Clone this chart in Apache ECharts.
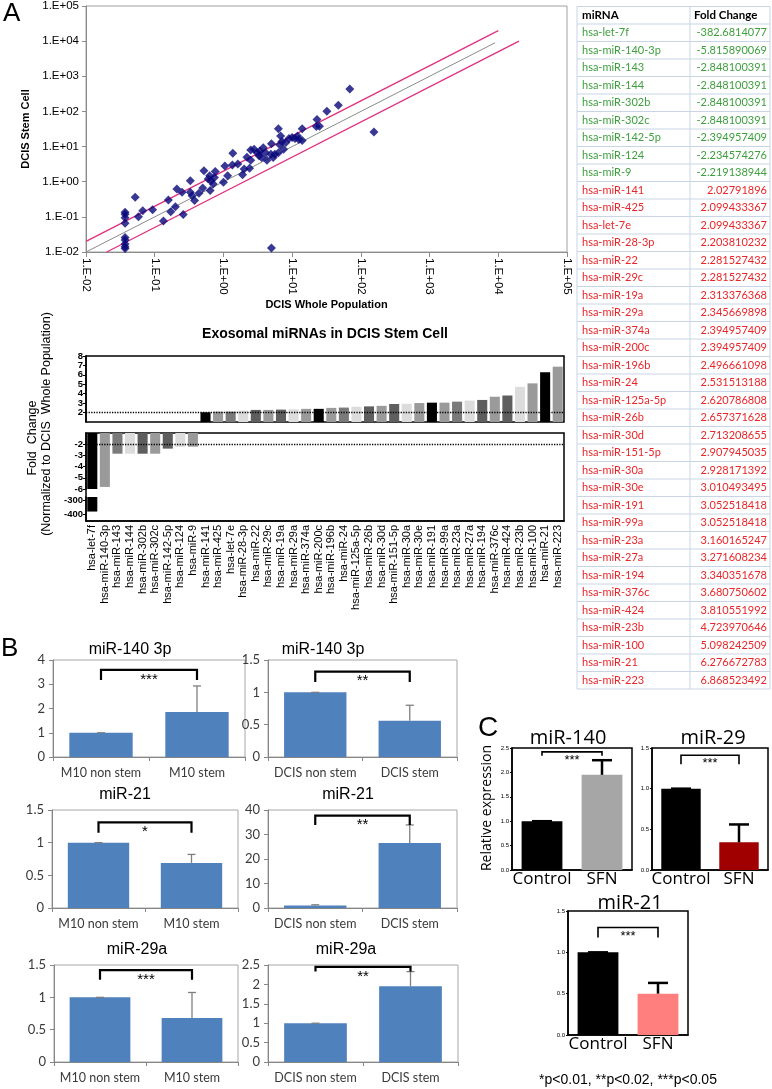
<!DOCTYPE html>
<html>
<head>
<meta charset="utf-8">
<script src="https://cdn.jsdelivr.net/npm/echarts@6/dist/echarts.min.js"></script>
<style>
  html, body { margin: 0; padding: 0; background: #fff; }
  #main { width: 772px; height: 1089px; }
</style>
</head>
<body>
<div id="main"></div>
<script>
// ---------- data ----------
// panel A scatter (DCIS whole population vs DCIS stem cell)
const scatterWhole = [0.037, 0.037, 0.037, 0.037, 0.037, 0.037, 0.037, 0.037, 0.037,
  0.052, 0.058, 0.067, 0.093, 0.134, 0.158, 0.171, 0.20, 0.21, 0.25, 0.26,
  0.33, 0.33, 0.35, 0.38, 0.44, 0.50, 0.52, 0.60, 0.63, 0.64, 0.66, 0.71, 0.74, 0.76,
  1.0, 1.05, 1.15, 1.35, 1.37, 1.62, 1.9, 2.0, 2.2, 2.4, 2.5, 2.5, 2.8, 3.1, 3.3, 3.4,
  3.6, 3.8, 4.1, 4.3, 4.9, 5.0, 5.3, 5.6, 6.3, 6.3, 6.6, 6.8, 7.1, 7.5, 8.1, 9.0,
  10, 11, 12, 12.5, 14, 14, 22.5, 23, 25, 32, 47, 69, 155, 5.0];
const scatterStem = [0.135, 0.118, 0.095, 0.066, 0.026, 0.022, 0.017, 0.014, 0.0125,
  0.36, 0.10, 0.15, 0.16, 0.076, 0.30, 0.14, 0.195, 0.62, 0.50, 0.117,
  1.07, 0.50, 0.40, 0.29, 0.47, 0.66, 2.04, 1.20, 1.48, 0.56, 1.07, 0.86, 1.32, 1.95,
  0.96, 2.8, 1.48, 3.0, 6.5, 3.2, 1.58, 2.3, 5.0, 2.4, 8.0, 4.1, 8.4, 6.7, 5.5, 7.5,
  4.9, 9.3, 6.7, 4.1, 6.0, 12, 4.9, 6.0, 6.7, 32, 11.2, 20, 14, 8.4, 13, 17,
  18, 17, 20, 16, 32, 15, 37, 59, 38, 102, 151, 437, 26, 0.013];
const diagX = [0.01, 9000];
const bandUpX = [0.01, 10000];
const bandLowX = [0.02, 20000];
const foldBand = 2;

// exosomal miRNA fold changes (table + bar chart)
const mirNames = ['hsa-let-7f', 'hsa-miR-140-3p', 'hsa-miR-143', 'hsa-miR-144', 'hsa-miR-302b',
  'hsa-miR-302c', 'hsa-miR-142-5p', 'hsa-miR-124', 'hsa-miR-9', 'hsa-miR-141', 'hsa-miR-425',
  'hsa-let-7e', 'hsa-miR-28-3p', 'hsa-miR-22', 'hsa-miR-29c', 'hsa-miR-19a', 'hsa-miR-29a',
  'hsa-miR-374a', 'hsa-miR-200c', 'hsa-miR-196b', 'hsa-miR-24', 'hsa-miR-125a-5p', 'hsa-miR-26b',
  'hsa-miR-30d', 'hsa-miR-151-5p', 'hsa-miR-30a', 'hsa-miR-30e', 'hsa-miR-191', 'hsa-miR-99a',
  'hsa-miR-23a', 'hsa-miR-27a', 'hsa-miR-194', 'hsa-miR-376c', 'hsa-miR-424', 'hsa-miR-23b',
  'hsa-miR-100', 'hsa-miR-21', 'hsa-miR-223'];
const foldChange = ['-382.6814077', '-5.815890069', '-2.848100391', '-2.848100391', '-2.848100391',
  '-2.848100391', '-2.394957409', '-2.234574276', '-2.219138944', '2.02791896', '2.099433367',
  '2.099433367', '2.203810232', '2.281527432', '2.281527432', '2.313376368', '2.345669898',
  '2.394957409', '2.394957409', '2.496661098', '2.531513188', '2.620786808', '2.657371628',
  '2.713208655', '2.907945035', '2.928171392', '3.010493495', '3.052518418', '3.052518418',
  '3.160165247', '3.271608234', '3.340351678', '3.680750602', '3.810551992', '4.723970646',
  '5.098242509', '6.276672783', '6.868523492'];
const topTicksEven = [2, 4, 6, 8];
const topTicksOdd = [3, 5, 7];
const midTicks = [-2, -3, -4, -5, -6];
const lowTicks = [-300, -400];

// panel B (qPCR, mean and top of error bar)
const m10Cats = ['M10 non stem', 'M10 stem'];
const dcisCats = ['DCIS non stem', 'DCIS stem'];
const mir140M10 = [1.0, 1.86], mir140M10Top = [1.0, 2.93];
const mir140Dcis = [1.0, 0.56], mir140DcisTop = [1.0, 0.80];
const mir21M10 = [1.0, 0.69], mir21M10Top = [1.0, 0.82];
const mir21Dcis = [1.0, 26.5], mir21DcisTop = [1.3, 33.9];
const mir29aM10 = [1.0, 0.68], mir29aM10Top = [1.0, 1.075];
const mir29aDcis = [1.0, 1.95], mir29aDcisTop = [1.0, 2.33];

// panel C (SFN treatment)
const sfnCats = ['Control', 'SFN'];
const sfn140 = [1.0, 1.95], sfn140Top = [1.0, 2.25];
const sfn29 = [1.0, 0.34], sfn29Top = [1.0, 0.56];
const sfn21 = [1.0, 0.5], sfn21Top = [1.0, 0.63];

// ---------- helpers ----------
const SANS = 'Liberation Sans';
function fmtE(v) {
  const k = Math.round(Math.log10(v));
  return '1.E' + (k < 0 ? '-' : '+') + String(Math.abs(k)).padStart(2, '0');
}
function txt(x, y, text, size, opts) {
  opts = opts || {};
  return {
    type: 'text', x: x, y: y, rotation: opts.rotation || 0, silent: true,
    style: {
      text: text, fontSize: size, fontFamily: opts.family || SANS,
      fontWeight: opts.weight || 'normal', fill: opts.color || '#000',
      align: opts.align || 'center', verticalAlign: opts.valign || 'middle'
    }
  };
}
function errorBarItem(color, width, cap) {
  return function (params, api) {
    const base = api.coord([api.value(0), api.value(1)]);
    const tip = api.coord([api.value(0), api.value(2)]);
    const st = { stroke: color, lineWidth: width, fill: 'none' };
    return {
      type: 'group', children: [
        { type: 'line', shape: { x1: base[0], y1: base[1], x2: tip[0], y2: tip[1] }, style: st },
        { type: 'line', shape: { x1: tip[0] - cap / 2, y1: tip[1], x2: tip[0] + cap / 2, y2: tip[1] }, style: st }
      ]
    };
  };
}
function bracketItem(stars, size, width) {
  return function (params, api) {
    const a = api.coord([api.value(0), api.value(1)]);
    const b = api.coord([api.value(2), api.value(1)]);
    const aLow = api.coord([api.value(0), api.value(3)]);
    const bLow = api.coord([api.value(2), api.value(3)]);
    return {
      type: 'group', children: [
        { type: 'polyline', shape: { points: [aLow, a, b, bLow] }, style: { stroke: '#000', lineWidth: width, fill: 'none' } },
        { type: 'text', x: (a[0] + b[0]) / 2, y: a[1] + 2,
          style: { text: stars, fontSize: size, fontFamily: SANS, fill: '#000', align: 'center', verticalAlign: 'top' } }
      ]
    };
  };
}

const grids = [], xAxes = [], yAxes = [], series = [], elements = [];

// ---------- panel A scatter ----------
grids.push({ left: 86, top: 5, width: 481, height: 247, show: true, borderColor: '#a0a0a0', borderWidth: 1 });
xAxes.push({
  type: 'log', gridIndex: 0, logBase: 10, min: 0.01, max: 100000, splitNumber: 7,
  axisLine: { lineStyle: { color: '#8c8c8c' } },
  axisTick: { length: 5, lineStyle: { color: '#8c8c8c' } },
  splitLine: { show: false },
  axisLabel: { rotate: -90, fontSize: 11.5, color: '#000', margin: 6, formatter: fmtE },
  name: 'DCIS Whole Population', nameLocation: 'middle', nameGap: 47,
  nameTextStyle: { fontWeight: 'bold', fontSize: 11, color: '#000' }
});
yAxes.push({
  type: 'log', gridIndex: 0, logBase: 10, min: 0.01, max: 100000, splitNumber: 7,
  axisLine: { lineStyle: { color: '#8c8c8c' } },
  axisTick: { length: 4, lineStyle: { color: '#8c8c8c' } },
  splitLine: { show: false },
  axisLabel: { fontSize: 11.5, color: '#000', margin: 7, formatter: fmtE },
  name: 'DCIS Stem Cell', nameLocation: 'middle', nameGap: 47, nameRotate: 90,
  nameTextStyle: { fontWeight: 'bold', fontSize: 11, color: '#000' }
});
series.push({
  type: 'line', xAxisIndex: 0, yAxisIndex: 0, showSymbol: false, silent: true,
  data: diagX.map(x => [x, x]), lineStyle: { color: '#8a8a8a', width: 1 }
});
series.push({
  type: 'line', xAxisIndex: 0, yAxisIndex: 0, showSymbol: false, silent: true,
  data: bandUpX.map(x => [x, x * foldBand]), lineStyle: { color: '#e0307e', width: 1.3 }
});
series.push({
  type: 'line', xAxisIndex: 0, yAxisIndex: 0, showSymbol: false, silent: true,
  data: bandLowX.map(x => [x, x / foldBand]), lineStyle: { color: '#e0307e', width: 1.3 }
});
series.push({
  type: 'scatter', xAxisIndex: 0, yAxisIndex: 0, symbol: 'diamond', symbolSize: 9, silent: true,
  itemStyle: { color: '#07077a' }, z: 5,
  data: scatterWhole.map((x, i) => [x, scatterStem[i]])
});

// ---------- panel A bar chart (broken axis) ----------
const foldNum = foldChange.map(Number);
const barShades = ['#000000', '#9a9a9a', '#7a7a7a', '#dcdcdc', '#5e5e5e', '#9a9a9a', '#5e5e5e', '#dcdcdc', '#9a9a9a'];
const shade = p => barShades[p.dataIndex % barShades.length];
const barLabel = vals => ({ customValues: vals, fontSize: 9.5, fontWeight: 'bold', color: '#000',
  margin: 3, showMinLabel: true, showMaxLabel: true });
const barTick = vals => ({ show: true, length: 3, customValues: vals, lineStyle: { color: '#000' } });
const barAxisLine = { show: true, lineStyle: { color: '#000', width: 1.5 } };

// top part: 1..8
grids.push({ left: 86, top: 356, width: 478, height: 66, show: true, borderColor: '#000', borderWidth: 1.5 });
xAxes.push({ type: 'category', gridIndex: 1, data: mirNames, show: false });
yAxes.push({ type: 'value', gridIndex: 1, min: 1, max: 8, splitLine: { show: false }, axisLine: barAxisLine,
  axisTick: barTick(topTicksEven), axisLabel: barLabel(topTicksEven) });
// middle part: -1..-6
grids.push({ left: 86, top: 433, width: 478, height: 56 });
xAxes.push({ type: 'category', gridIndex: 2, data: mirNames, show: false });
yAxes.push({ type: 'value', gridIndex: 2, min: -6, max: -1, splitLine: { show: false }, axisLine: barAxisLine,
  axisTick: barTick(midTicks), axisLabel: barLabel(midTicks) });
// bottom part: -300..-400
grids.push({ left: 86, top: 497, width: 478, height: 24 });
xAxes.push({
  type: 'category', gridIndex: 3, data: mirNames,
  axisLine: { lineStyle: { color: '#000', width: 1.5 } },
  axisTick: { length: 3, lineStyle: { color: '#000' } },
  axisLabel: { rotate: 90, interval: 0, fontSize: 11, color: '#000', margin: 4 }
});
yAxes.push({ type: 'value', gridIndex: 3, min: -450, max: -279, splitLine: { show: false }, axisLine: barAxisLine,
  axisTick: barTick(lowTicks), axisLabel: barLabel(lowTicks) });
const dotted = v => ({ silent: true, symbol: 'none', label: { show: false },
  lineStyle: { type: 'dotted', color: '#000', width: 1.3 }, data: [{ yAxis: v }] });
series.push({ type: 'bar', xAxisIndex: 1, yAxisIndex: 1, barCategoryGap: '20%', silent: true,
  data: foldNum.map(v => v > 0 ? v : null), itemStyle: { color: shade }, markLine: dotted(2) });
series.push({ type: 'bar', xAxisIndex: 2, yAxisIndex: 2, barCategoryGap: '20%', silent: true,
  data: foldNum.map(v => v < 0 ? v : null), itemStyle: { color: shade }, markLine: dotted(-2) });
series.push({ type: 'bar', xAxisIndex: 3, yAxisIndex: 3, barCategoryGap: '20%', silent: true,
  data: foldNum.map(v => v < -6 ? v : null), itemStyle: { color: shade } });

elements.push(txt(325, 334, 'Exosomal miRNAs in DCIS Stem Cell', 14, { weight: 'bold' }));
elements.push(txt(33, 438, 'Fold  Change', 12.5, { rotation: Math.PI / 2 }));
elements.push(txt(47, 424, '(Normalized to DCIS  Whole Population)', 12.5, { rotation: Math.PI / 2 }));

// ---------- small bar panels (B and C) ----------
function addPanel(p) {
  const gi = grids.length, ai = xAxes.length;
  grids.push({ left: p.left, top: p.top, width: p.width, height: p.height, show: true,
    borderColor: p.frame, borderWidth: p.frameWidth });
  xAxes.push({
    type: 'category', gridIndex: gi, data: p.cats,
    axisLine: { lineStyle: { color: p.axisColor, width: p.frameWidth } },
    axisTick: { show: p.xTicks, length: 4, lineStyle: { color: p.axisColor } },
    axisLabel: { interval: 0, fontFamily: p.catFont, fontSize: p.catSize, color: p.labelColor, margin: p.catMargin }
  });
  yAxes.push({
    type: 'value', gridIndex: gi, min: 0, max: p.max, interval: p.step, splitLine: { show: false },
    axisLine: { show: true, lineStyle: { color: p.axisColor, width: p.frameWidth } },
    axisTick: { show: true, length: p.tickLen, lineStyle: { color: p.axisColor } },
    axisLabel: { fontFamily: p.yFont, fontSize: p.ySize, color: p.labelColor, margin: p.yMargin, formatter: p.yFmt }
  });
  series.push({ type: 'bar', xAxisIndex: ai, yAxisIndex: ai, data: p.values, barCategoryGap: p.gap, silent: true,
    itemStyle: { color: q => p.colors[q.dataIndex] } });
  series.push({ type: 'custom', xAxisIndex: ai, yAxisIndex: ai, silent: true, z: 3,
    data: p.values.map((v, i) => [i, v, p.tops[i]]), encode: { x: 0, y: [1, 2] },
    renderItem: errorBarItem(p.errColor, p.errWidth, p.cap) });
  series.push({ type: 'custom', xAxisIndex: ai, yAxisIndex: ai, silent: true, z: 4,
    data: [[0, p.bracket[0], 1, p.bracket[1]]], encode: { x: [0, 2], y: [1, 3] },
    renderItem: bracketItem(p.stars, p.starSize, p.bracketWidth) });
  elements.push(txt(p.titleX, p.titleY, p.title, p.titleSize, { family: p.titleFont }));
}

const bStyle = {
  frame: '#a6a6a6', frameWidth: 1, axisColor: '#868686', labelColor: '#3a3a3a', xTicks: true,
  catFont: 'Lato', catSize: 12.5, catMargin: 9, yFont: 'Lato', ySize: 13, yMargin: 8, tickLen: 4,
  gap: '34%', colors: ['#4f81bd', '#4f81bd'], errColor: '#7f7f7f', errWidth: 1.3, cap: 8,
  bracketWidth: 2.2, starSize: 15, titleSize: 16, titleFont: SANS
};
addPanel(Object.assign({}, bStyle, { left: 53, top: 660, width: 192, height: 97, max: 4, step: 1,
  cats: m10Cats, values: mir140M10, tops: mir140M10Top, bracket: [3.59, 3.18], stars: '***',
  title: 'miR-140 3p', titleX: 130, titleY: 650 }));
addPanel(Object.assign({}, bStyle, { left: 268, top: 660, width: 189, height: 97, max: 1.5, step: 0.5,
  cats: dcisCats, values: mir140Dcis, tops: mir140DcisTop, bracket: [1.32, 1.16], stars: '**',
  title: 'miR-140 3p', titleX: 323, titleY: 650 }));
addPanel(Object.assign({}, bStyle, { left: 52, top: 810, width: 186, height: 98, max: 1.5, step: 0.5,
  cats: m10Cats, values: mir21M10, tops: mir21M10Top, bracket: [1.31, 1.15], stars: '*',
  title: 'miR-21', titleX: 125, titleY: 795 }));
addPanel(Object.assign({}, bStyle, { left: 268, top: 810, width: 189, height: 98, max: 40, step: 10,
  cats: dcisCats, values: mir21Dcis, tops: mir21DcisTop, bracket: [37.7, 33.9], stars: '**',
  title: 'miR-21', titleX: 348, titleY: 795 }));
addPanel(Object.assign({}, bStyle, { left: 54, top: 965, width: 184, height: 97, max: 1.5, step: 0.5,
  cats: m10Cats, values: mir29aM10, tops: mir29aM10Top, bracket: [1.42, 1.27], stars: '***',
  title: 'miR-29a', titleX: 137, titleY: 950 }));
addPanel(Object.assign({}, bStyle, { left: 268, top: 965, width: 190, height: 97, max: 2.5, step: 0.5,
  cats: dcisCats, values: mir29aDcis, tops: mir29aDcisTop, bracket: [2.45, 2.33], stars: '**',
  title: 'miR-29a', titleX: 346, titleY: 950 }));

const cStyle = {
  frame: '#000', frameWidth: 1.5, axisColor: '#000', labelColor: '#000', xTicks: false,
  catFont: 'Open Sans', catSize: 17, catMargin: 1, yFont: SANS, ySize: 6, yMargin: 3, tickLen: 2,
  gap: '32%', errColor: '#000', errWidth: 2.5, cap: 20, yFmt: v => v.toFixed(1),
  bracketWidth: 1.6, starSize: 13, titleSize: 20, titleFont: 'Open Sans'
};
addPanel(Object.assign({}, cStyle, { left: 512, top: 748, width: 120, height: 122, max: 2.5, step: 0.5,
  cats: sfnCats, values: sfn140, tops: sfn140Top, colors: ['#000000', '#a6a6a6'],
  bracket: [2.42, 2.34], stars: '***', title: 'miR-140', titleX: 568, titleY: 738 }));
addPanel(Object.assign({}, cStyle, { left: 652, top: 748, width: 116, height: 122, max: 1.5, step: 0.5,
  cats: sfnCats, values: sfn29, tops: sfn29Top, colors: ['#000000', '#a00000'],
  bracket: [1.41, 1.30], stars: '***', title: 'miR-29', titleX: 713, titleY: 738 }));
addPanel(Object.assign({}, cStyle, { left: 568, top: 911, width: 120, height: 124, max: 1.5, step: 0.5,
  cats: sfnCats, values: sfn21, tops: sfn21Top, colors: ['#000000', '#ff7f7f'],
  bracket: [1.30, 1.18], stars: '***', title: 'miR-21', titleX: 630, titleY: 903 }));

// second label axis for odd ticks of the top bar part (keeps dense labels from being dropped)
yAxes.push({ type: 'value', gridIndex: 1, min: 1, max: 8, position: 'left', offset: 0,
  splitLine: { show: false }, axisLine: { show: false },
  axisTick: barTick(topTicksOdd), axisLabel: barLabel(topTicksOdd) });

// frame around the lower (negative) part of the bar chart
grids.push({ left: 86, top: 433, width: 478, height: 88, show: true, borderColor: '#000', borderWidth: 1.5 });

// ---------- panel letters, labels ----------
elements.push(txt(3, 14, 'A', 26, { align: 'left' }));
elements.push(txt(1, 649, 'B', 26, { align: 'left' }));
elements.push(txt(478, 728, 'C', 28, { align: 'left' }));
elements.push(txt(487, 808, 'Relative expression', 14, { rotation: Math.PI / 2, family: 'Open Sans' }));
elements.push(txt(628, 1080, '*p<0.01, **p<0.02, ***p<0.05', 14));

// ---------- table ----------
const tabL = 577, tabMid = 690, tabR = 770, headTop = 6.5, rowTop = 24, rowH = 17.5;
const tabLine = '#c9d5e4';
const tabBottom = rowTop + rowH * mirNames.length;
[tabL, tabMid, tabR].forEach(x => elements.push({ type: 'line', silent: true,
  shape: { x1: x, y1: headTop, x2: x, y2: tabBottom }, style: { stroke: tabLine, lineWidth: 1 } }));
for (let i = 0; i <= mirNames.length + 1; i++) {
  const y = i === 0 ? headTop : rowTop + rowH * (i - 1);
  elements.push({ type: 'line', silent: true, shape: { x1: tabL, y1: y, x2: tabR, y2: y },
    style: { stroke: tabLine, lineWidth: 1 } });
}
elements.push(txt(582, (headTop + rowTop) / 2, 'miRNA', 11.5, { align: 'left', weight: 'bold', family: 'Lato' }));
elements.push(txt(694, (headTop + rowTop) / 2, 'Fold Change', 11.5, { align: 'left', weight: 'bold', family: 'Lato' }));
mirNames.forEach((name, i) => {
  const y = rowTop + rowH * i + rowH / 2;
  const col = Number(foldChange[i]) < 0 ? '#3d9f3d' : '#e8262a';
  elements.push(txt(582, y, name, 11, { align: 'left', color: col, family: 'Lato' }));
  elements.push(txt(767, y, foldChange[i], 11, { align: 'right', color: col, family: 'Lato' }));
});

// ---------- render ----------
const chart = echarts.init(document.getElementById('main'), null, { renderer: 'canvas' });
chart.setOption({
  animation: false,
  backgroundColor: '#fff',
  textStyle: { fontFamily: SANS },
  grid: grids,
  xAxis: xAxes,
  yAxis: yAxes,
  series: series,
  graphic: { elements: elements }
});
</script>
</body>
</html>
